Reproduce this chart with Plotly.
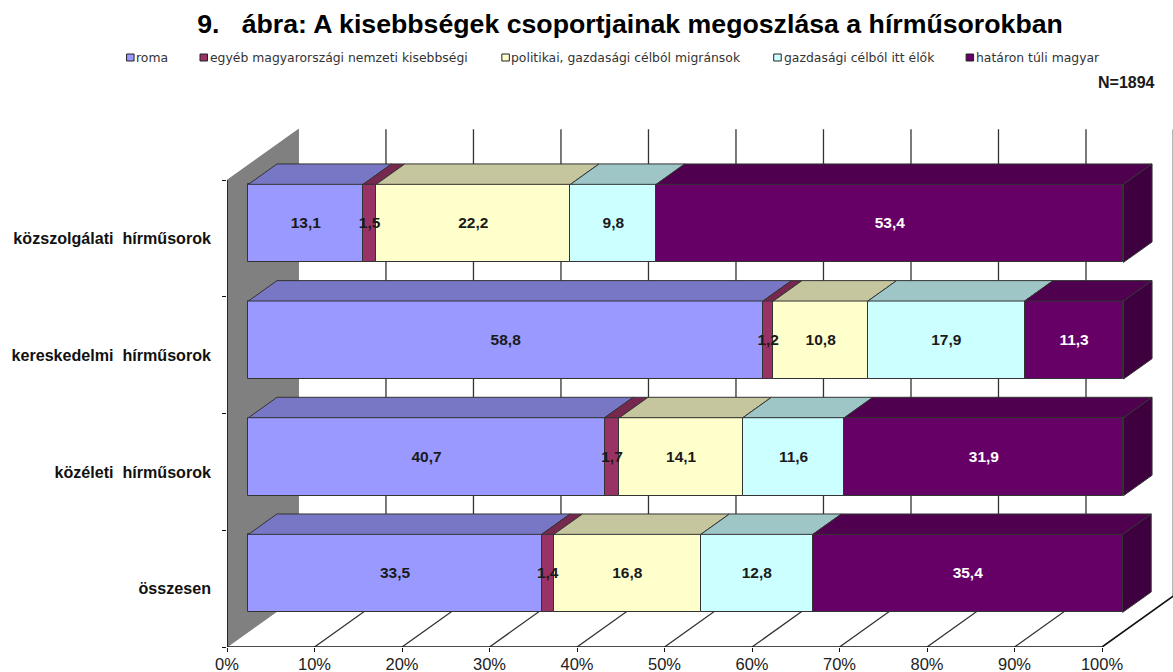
import plotly.graph_objects as go

# ---- data (top to bottom as in the picture) ----
categories = ["közszolgálati  hírműsorok", "kereskedelmi  hírműsorok", "közéleti  hírműsorok", "összesen"]
roma = [13.1, 58.8, 40.7, 33.5]
egyeb = [1.5, 1.2, 1.7, 1.4]
politikai = [22.2, 10.8, 14.1, 16.8]
gazdasagi = [9.8, 17.9, 11.6, 12.8]
hataron = [53.4, 11.3, 31.9, 35.4]
series_names = ["roma", "egyéb magyarországi nemzeti kisebbségi",
                "politikai, gazdasági célból migránsok",
                "gazdasági célból itt élők", "határon túli magyar"]
series_values = [roma, egyeb, politikai, gazdasagi, hataron]
x_ticks = [0, 10, 20, 30, 40, 50, 60, 70, 80, 90, 100]

# ---- styles ----
front_cols = ["#9999FF", "#993366", "#FFFFCC", "#CCFFFF", "#660066"]
top_cols = ["#7777C6", "#77284F", "#C6C69E", "#9EC6C6", "#4F004F"]
side_col = "#3F003F"
label_cols = ["#1a1a1a", "#1a1a1a", "#1a1a1a", "#1a1a1a", "#ffffff"]
edge = "#333333"
FONT = "Liberation Sans"

W, H = 1173, 672
L, B, T = 226.5, 25, 100
PX_X = 8.755          # px per percent
PX_Y = 116.67         # px per category band
plot_w, plot_h = W - L, H - T - B
x_range = [0, plot_w / PX_X]
y_range = [-0.5, -0.5 + plot_h / PX_Y]

# oblique projection of the depth axis, in axis units
DEPTH_X, DEPTH_Y = 71.5 / PX_X, 51 / PX_Y
def proj(pct, cat, depth):
    return pct + depth * DEPTH_X, cat + depth * DEPTH_Y

BAR_H = 78 / PX_Y
D0, D1 = 0.3, 0.7
positions = [len(categories) - 1 - i for i in range(len(categories))]
y_min, y_max = -0.5, len(categories) - 0.5

fig = go.Figure()

def poly(points, fill, line=edge, width=1, xa="x2", ya="y2"):
    xs = [p[0] for p in points] + [points[0][0]]
    ys = [p[1] for p in points] + [points[0][1]]
    fig.add_trace(go.Scatter(x=xs, y=ys, mode="lines", fill="toself", fillcolor=fill,
                             line=dict(color=line, width=width), showlegend=False,
                             hoverinfo="skip", cliponaxis=False, xaxis=xa, yaxis=ya))

def seg(points, color="#333333", width=1.3):
    fig.add_trace(go.Scatter(x=[p[0] for p in points], y=[p[1] for p in points], mode="lines",
                             line=dict(color=color, width=width), showlegend=False,
                             hoverinfo="skip", cliponaxis=False, xaxis="x", yaxis="y"))

# side wall (primary axes, below the overlay that carries the bars)
poly([proj(0, y_min, 0), proj(0, y_max, 0), proj(0, y_max, 1), proj(0, y_min, 1)],
     "#808080", "#808080", 1, "x", "y")
# wall gridlines and floor lines
for t in x_ticks[1:]:
    w = 1.6 if t == 100 else 1.3
    c = "#111111" if t == 100 else "#333333"
    seg([proj(t, y_max, 1), proj(t, y_min, 1), proj(t, y_min, 0)], c, w)
# axis lines
seg([proj(0, y_max, 0), proj(0, y_min, 0), proj(100, y_min, 0)], "#111111", 1.6)

# 3D faces of the bars
for i, p in enumerate(positions):
    top = p + BAR_H / 2
    bottom = p - BAR_H / 2
    cum = 0
    for s, vals in enumerate(series_values):
        v = vals[i]
        poly([proj(cum, top, D0), proj(cum + v, top, D0), proj(cum + v, top, D1), proj(cum, top, D1)],
             top_cols[s])
        cum += v
    poly([proj(cum, top, D0), proj(cum, top, D1), proj(cum, bottom, D1), proj(cum, bottom, D0)],
         side_col)

# front faces: stacked bars shifted by the depth projection
sx, sy = proj(0, 0, D0)
for s, vals in enumerate(series_values):
    bases = [sx + sum(series_values[k][i] for k in range(s)) for i in range(len(vals))]
    fig.add_trace(go.Bar(x=vals, y=[p + sy for p in positions], base=bases, orientation="h",
                         width=BAR_H, name=series_names[s], showlegend=False,
                         xaxis="x2", yaxis="y2",
                         marker=dict(color=front_cols[s], line=dict(color=edge, width=1)),
                         hovertemplate="%{x}<extra>" + series_names[s] + "</extra>"))

# value labels
for s, vals in enumerate(series_values):
    xs = [sx + sum(series_values[k][i] for k in range(s)) + vals[i] / 2 for i in range(len(vals))]
    fig.add_trace(go.Scatter(x=xs, y=[p + sy - 1 / PX_Y for p in positions], mode="text",
                             text=[f"{v:.1f}".replace(".", ",") for v in vals],
                             textfont=dict(family=FONT, size=15.5, color=label_cols[s], weight="bold"),
                             showlegend=False, hoverinfo="skip", cliponaxis=False,
                             xaxis="x2", yaxis="y2"))

# legend built as swatches + text
leg_sw = [130, 203.5, 505.5, 777.5, 970]
leg_tx = [133, 207, 509, 782, 974]
shapes = []
annos = []
for s, name in enumerate(series_names):
    shapes.append(dict(type="rect", xref="paper", yref="paper", layer="above",
                       x0=(leg_sw[s] - L - 4) / plot_w, x1=(leg_sw[s] - L + 3.5) / plot_w,
                       y0=(H - B - 61) / plot_h, y1=(H - B - 54) / plot_h,
                       fillcolor=front_cols[s], line=dict(color="#222222", width=1)))
    annos.append(dict(text=name, xref="paper", yref="paper", showarrow=False,
                      x=(leg_tx[s] - L) / plot_w, y=(H - B - 57) / plot_h,
                      xanchor="left", yanchor="middle",
                      font=dict(family="DejaVu Sans", size=12.4, color="#333333")))
annos.append(dict(text="N=1894", xref="paper", yref="paper", showarrow=False,
                  x=(1157 - L) / plot_w, y=(H - B - 83) / plot_h, xanchor="right", yanchor="middle",
                  font=dict(family=FONT, size=16, color="#1a1a1a", weight="bold")))

fig.update_layout(
    width=W, height=H, autosize=False, paper_bgcolor="white", plot_bgcolor="white",
    margin=dict(l=L, r=0, t=T, b=B, pad=0),
    barmode="overlay", bargap=0, showlegend=False,
    title=dict(text="9.\u00a0\u00a0\u00a0ábra: A kisebbségek csoportjainak megoszlása a hírműsorokban",
               x=630 / W, y=1 - 24 / H, xanchor="center", yanchor="middle",
               font=dict(family=FONT, size=26.7, color="black", weight="bold")),
    xaxis=dict(range=x_range, tickmode="array", tickvals=x_ticks,
               ticktext=[f"{t}%" for t in x_ticks], showgrid=False, zeroline=False,
               ticks="outside", ticklen=4, tickcolor="#111111", tickwidth=1.3, showline=False,
               ticklabelstandoff=-2,
               tickfont=dict(family=FONT, size=16.5, color="#222222")),
    yaxis=dict(range=y_range, tickmode="array", tickvals=positions, ticktext=categories,
               showgrid=False, zeroline=False, showline=False, ticks="", ticklen=0, ticklabelstandoff=15,
               tickfont=dict(family=FONT, size=16.1, color="#111111", weight="bold"),
               minor=dict(tickmode="array", tickvals=[-0.5, 0.5, 1.5, 2.5, 3.5], ticks="outside",
                          ticklen=4, tickcolor="#111111", tickwidth=1.3, showgrid=False)),
    xaxis2=dict(range=x_range, overlaying="x", visible=False, matches="x"),
    yaxis2=dict(range=y_range, overlaying="y", visible=False, matches="y"),
    shapes=shapes, annotations=annos,
)

fig.write_html("out.html", config=dict(displayModeBar=False),
               post_script="document.body.style.margin='0';document.body.style.overflow='hidden';")
